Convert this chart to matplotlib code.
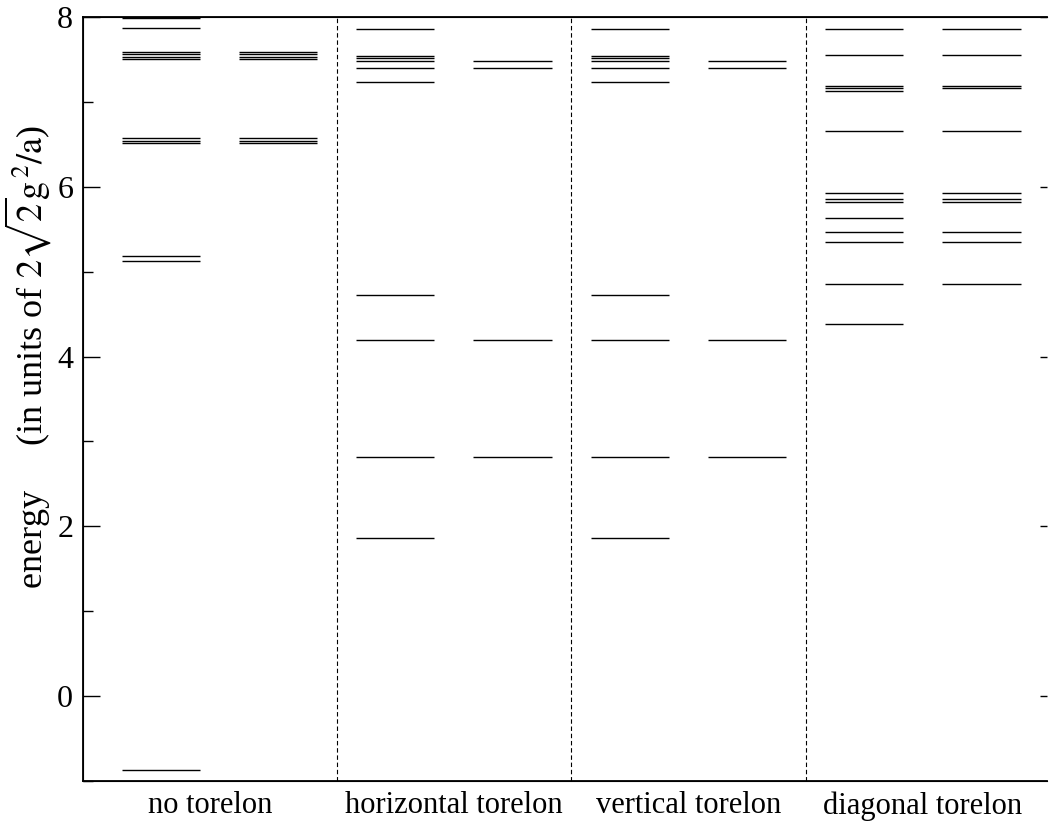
import numpy as np
import matplotlib.pyplot as plt

plt.rcParams['font.family'] = ['Liberation Serif', 'DejaVu Serif']
plt.rcParams['mathtext.fontset'] = 'stix'

# energy levels per sector: left set and right set of each column
sectors = ["no torelon", "horizontal torelon", "vertical torelon", "diagonal torelon"]

no_tor_a = [7.99, 7.87, 7.59, 7.57, 7.53, 7.51, 6.58, 6.545, 6.52, 5.18, 5.12, -0.87]
no_tor_b = [7.59, 7.57, 7.53, 7.51, 6.58, 6.545, 6.52]

hor_tor_a = [7.855, 7.54, 7.52, 7.48, 7.40, 7.24, 4.73, 4.19, 2.82, 1.86]
hor_tor_b = [7.48, 7.40, 4.19, 2.82]

ver_tor_a = [7.855, 7.54, 7.52, 7.48, 7.40, 7.24, 4.73, 4.19, 2.82, 1.86]
ver_tor_b = [7.48, 7.40, 4.19, 2.82]

diag_tor_a = [7.855, 7.55, 7.19, 7.16, 7.13, 6.66, 5.93, 5.86, 5.82, 5.63,
              5.47, 5.35, 4.855, 4.38]
diag_tor_b = [7.855, 7.55, 7.19, 7.16, 6.66, 5.93, 5.86, 5.82, 5.47, 5.35, 4.855]

levels = [(no_tor_a, no_tor_b), (hor_tor_a, hor_tor_b),
          (ver_tor_a, ver_tor_b), (diag_tor_a, diag_tor_b)]
label_pos = [0.46, 1.5, 2.5, 3.5]

fig = plt.figure(figsize=(10.5, 8.22), dpi=100)
ax = fig.add_axes([0.079, 0.0499, 0.918, 0.9294])

for i, (a, b) in enumerate(levels):
    ax.hlines(a, i + 0.083, i + 0.416, color='black', lw=1.0)
    ax.hlines(b, i + 0.582, i + 0.917, color='black', lw=1.0)

for xd in [1, 2, 3]:
    ax.axvline(xd, color='black', lw=0.8, ls=(0, (4, 2.5)))

ax.set_xlim(-0.083, 4.028)
ax.set_ylim(-1, 8)

ax.set_xticks(label_pos)
ax.set_xticklabels(sectors, fontsize=22)
ax.tick_params(axis='x', length=0, pad=7.5)

ax.set_yticks([0, 2, 4, 6, 8])
ax.set_yticks([-1, 1, 3, 5, 7], minor=True)
ax.tick_params(axis='y', which='major', direction='in', length=12, width=1.0,
               labelsize=23, pad=7)
ax.tick_params(axis='y', which='minor', direction='in', length=7, width=1.0)

for side in ['left', 'bottom', 'top']:
    ax.spines[side].set_linewidth(1.3)
ax.spines['right'].set_visible(False)

# short inner ticks on the right edge
ax2 = ax.twinx()
ax2.set_ylim(-1, 8)
ax2.set_yticks([0, 2, 4, 6, 8])
ax2.tick_params(axis='y', direction='in', length=5, width=1.0, labelright=False)
ax2.spines['right'].set_visible(False)

ax.set_ylabel(r"energy     (in units of $2\sqrt{2}\mathrm{g}^{\,2}/\mathrm{a}$)", fontsize=26)
ax.yaxis.set_label_coords(-0.031, 0.555)

fig.savefig("out.png", dpi=100)
